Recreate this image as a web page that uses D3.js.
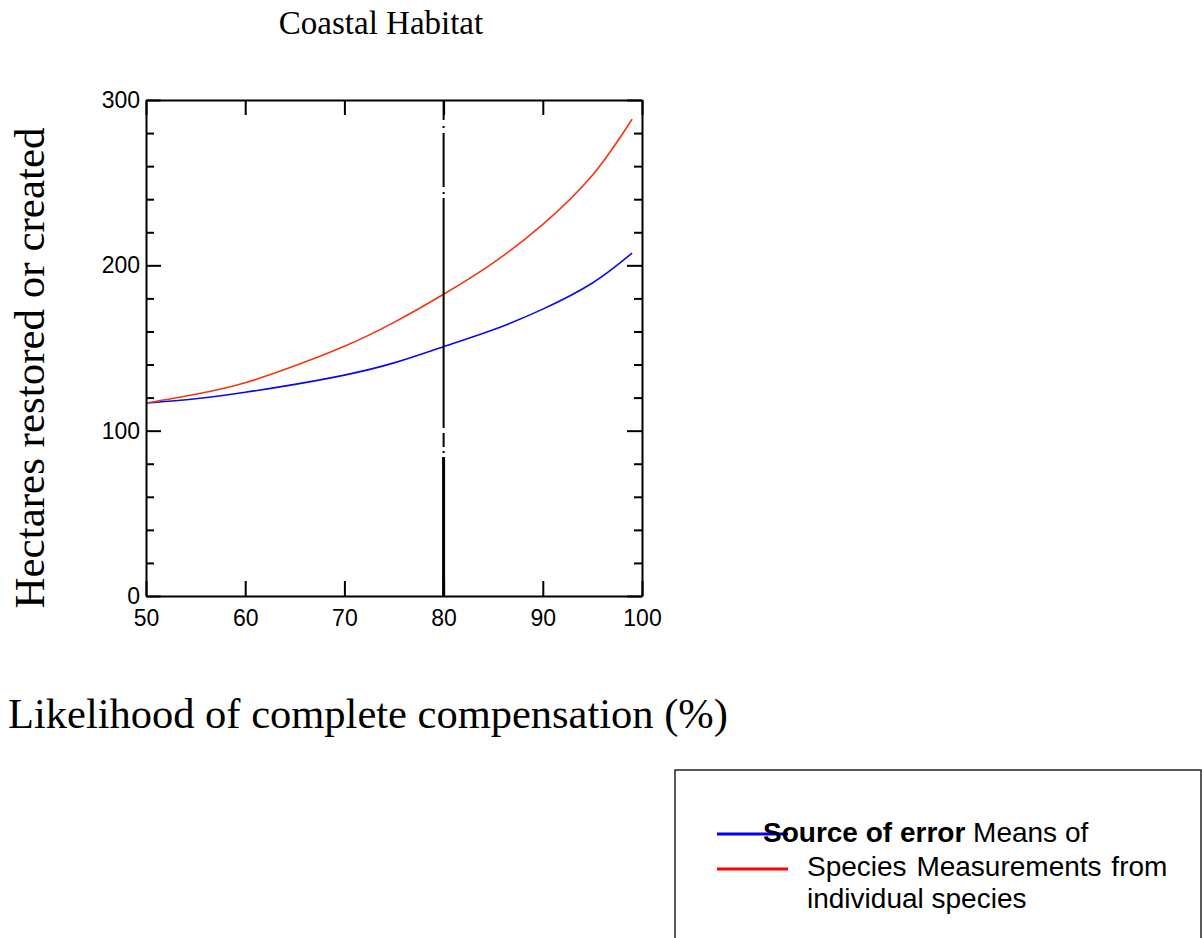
<!DOCTYPE html>
<html>
<head>
<meta charset="utf-8">
<script src="https://cdn.jsdelivr.net/npm/d3@7"></script>
<style>
  html, body { margin: 0; padding: 0; background: #fff; }
  svg { display: block; }
</style>
</head>
<body>
<svg id="chart" width="1202" height="938"></svg>
<script>
// ---- data ----
const likelihood = [50, 55, 60, 65, 70, 75, 80, 85, 90, 95, 99];
const meansOfSpecies = [116.7, 119.3, 123.2, 128.0, 133.6, 141.0, 150.8, 161.0, 173.5, 189.3, 207.4];
const individualSpecies = [116.7, 122.0, 129.0, 139.2, 151.0, 165.5, 182.5, 201.5, 224.8, 254.5, 288.4];
const xTicks = [50, 60, 70, 80, 90, 100];
const yTicks = [0, 100, 200, 300];
const yMinorTicks = [20, 40, 60, 80, 120, 140, 160, 180, 220, 240, 260, 280];
const referenceX = 80;
const referenceThickTop = 84;
const titleText = "Coastal Habitat";
const xLabel = "Likelihood of complete compensation (%)";
const yLabel = "Hectares restored or created";

const svg = d3.select("#chart");
const plot = { left: 146, right: 642, top: 100, bottom: 596 };

const x = d3.scaleLinear().domain([50, 100]).range([plot.left, plot.right]);
const y = d3.scaleLinear().domain([0, 300]).range([plot.bottom, plot.top]);

// title
svg.append("text")
  .attr("x", 381).attr("y", 34)
  .attr("text-anchor", "middle")
  .attr("font-family", "Liberation Serif, Times New Roman, serif")
  .attr("font-size", 33)
  .attr("fill", "#000")
  .text(titleText);

// curves
const line = d3.line().x((d, i) => x(likelihood[i])).y(d => y(d)).curve(d3.curveNatural);
svg.append("path").datum(meansOfSpecies)
  .attr("d", line).attr("fill", "none").attr("stroke", "#0a0aee").attr("stroke-width", 1.6);
svg.append("path").datum(individualSpecies)
  .attr("d", line).attr("fill", "none").attr("stroke", "#f53510").attr("stroke-width", 1.6);

// vertical reference line at 80
svg.append("line")
  .attr("x1", x(referenceX)).attr("x2", x(referenceX))
  .attr("y1", y(300)).attr("y2", y(0))
  .attr("stroke", "#000").attr("stroke-width", 2)
  .attr("stroke-dasharray", "20,6,2,5,54,5,2,4,230,5,14,4,2,4,139");
svg.append("line")
  .attr("x1", x(referenceX)).attr("x2", x(referenceX))
  .attr("y1", y(referenceThickTop)).attr("y2", y(0))
  .attr("stroke", "#000").attr("stroke-width", 3);

// axes
const fontAxis = "Liberation Sans, Arial, sans-serif";
function styleAxis(g) {
  g.select(".domain").attr("stroke", "#000").attr("stroke-width", 2);
  g.selectAll(".tick line").attr("stroke", "#000").attr("stroke-width", 2);
  g.selectAll(".tick text").attr("font-family", fontAxis).attr("font-size", 23).attr("fill", "#000");
}
svg.append("g").attr("transform", `translate(0,${plot.bottom})`)
  .call(d3.axisBottom(x).tickValues(xTicks).tickSizeInner(-15).tickSizeOuter(0).tickPadding(14).tickFormat(d3.format("d")))
  .call(styleAxis);
svg.append("g").attr("transform", `translate(0,${plot.top})`)
  .call(d3.axisTop(x).tickValues(xTicks).tickSizeInner(-15).tickSizeOuter(0).tickFormat(""))
  .call(styleAxis);
svg.append("g").attr("transform", `translate(${plot.left},0)`)
  .call(d3.axisLeft(y).tickValues(yTicks).tickSizeInner(-15).tickSizeOuter(0).tickPadding(6).tickFormat(d3.format("d")))
  .call(styleAxis);
svg.append("g").attr("transform", `translate(${plot.right},0)`)
  .call(d3.axisRight(y).tickValues(yTicks).tickSizeInner(-15).tickSizeOuter(0).tickFormat(""))
  .call(styleAxis);
// minor ticks
svg.append("g").attr("transform", `translate(${plot.left},0)`)
  .call(d3.axisLeft(y).tickValues(yMinorTicks).tickSizeInner(-8).tickSizeOuter(0).tickFormat(""))
  .call(styleAxis).call(g => g.select(".domain").remove());
svg.append("g").attr("transform", `translate(${plot.right},0)`)
  .call(d3.axisRight(y).tickValues(yMinorTicks).tickSizeInner(-8).tickSizeOuter(0).tickFormat(""))
  .call(styleAxis).call(g => g.select(".domain").remove());

// axis labels
svg.append("text")
  .attr("transform", "translate(44,368) rotate(-90)")
  .attr("text-anchor", "middle")
  .attr("font-family", "Liberation Serif, Times New Roman, serif")
  .attr("font-size", 43)
  .attr("fill", "#000")
  .text(yLabel);
svg.append("text")
  .attr("x", 8).attr("y", 728)
  .attr("font-family", "Liberation Serif, Times New Roman, serif")
  .attr("font-size", 42.5)
  .attr("fill", "#000")
  .text(xLabel);

// legend
const lg = svg.append("g");
lg.append("rect").attr("x", 675).attr("y", 770).attr("width", 526).attr("height", 200)
  .attr("fill", "#fff").attr("stroke", "#222").attr("stroke-width", 1.5);
lg.append("line").attr("x1", 717).attr("x2", 788).attr("y1", 834).attr("y2", 834)
  .attr("stroke", "#0000ee").attr("stroke-width", 3);
lg.append("line").attr("x1", 717).attr("x2", 788).attr("y1", 869).attr("y2", 869)
  .attr("stroke", "#ff0000").attr("stroke-width", 3);
const t1 = lg.append("text").attr("x", 763).attr("y", 842)
  .attr("font-family", fontAxis).attr("font-size", 28).attr("fill", "#000");
t1.append("tspan").attr("font-weight", "bold").text("Source of error");
t1.append("tspan").text(" Means of");
lg.append("text").attr("x", 807).attr("y", 876)
  .attr("font-family", fontAxis).attr("font-size", 28).attr("fill", "#000")
  .attr("word-spacing", 2)
  .text("Species Measurements from");
lg.append("text").attr("x", 807).attr("y", 908)
  .attr("font-family", fontAxis).attr("font-size", 28).attr("fill", "#000")
  .text("individual species");
</script>
</body>
</html>
